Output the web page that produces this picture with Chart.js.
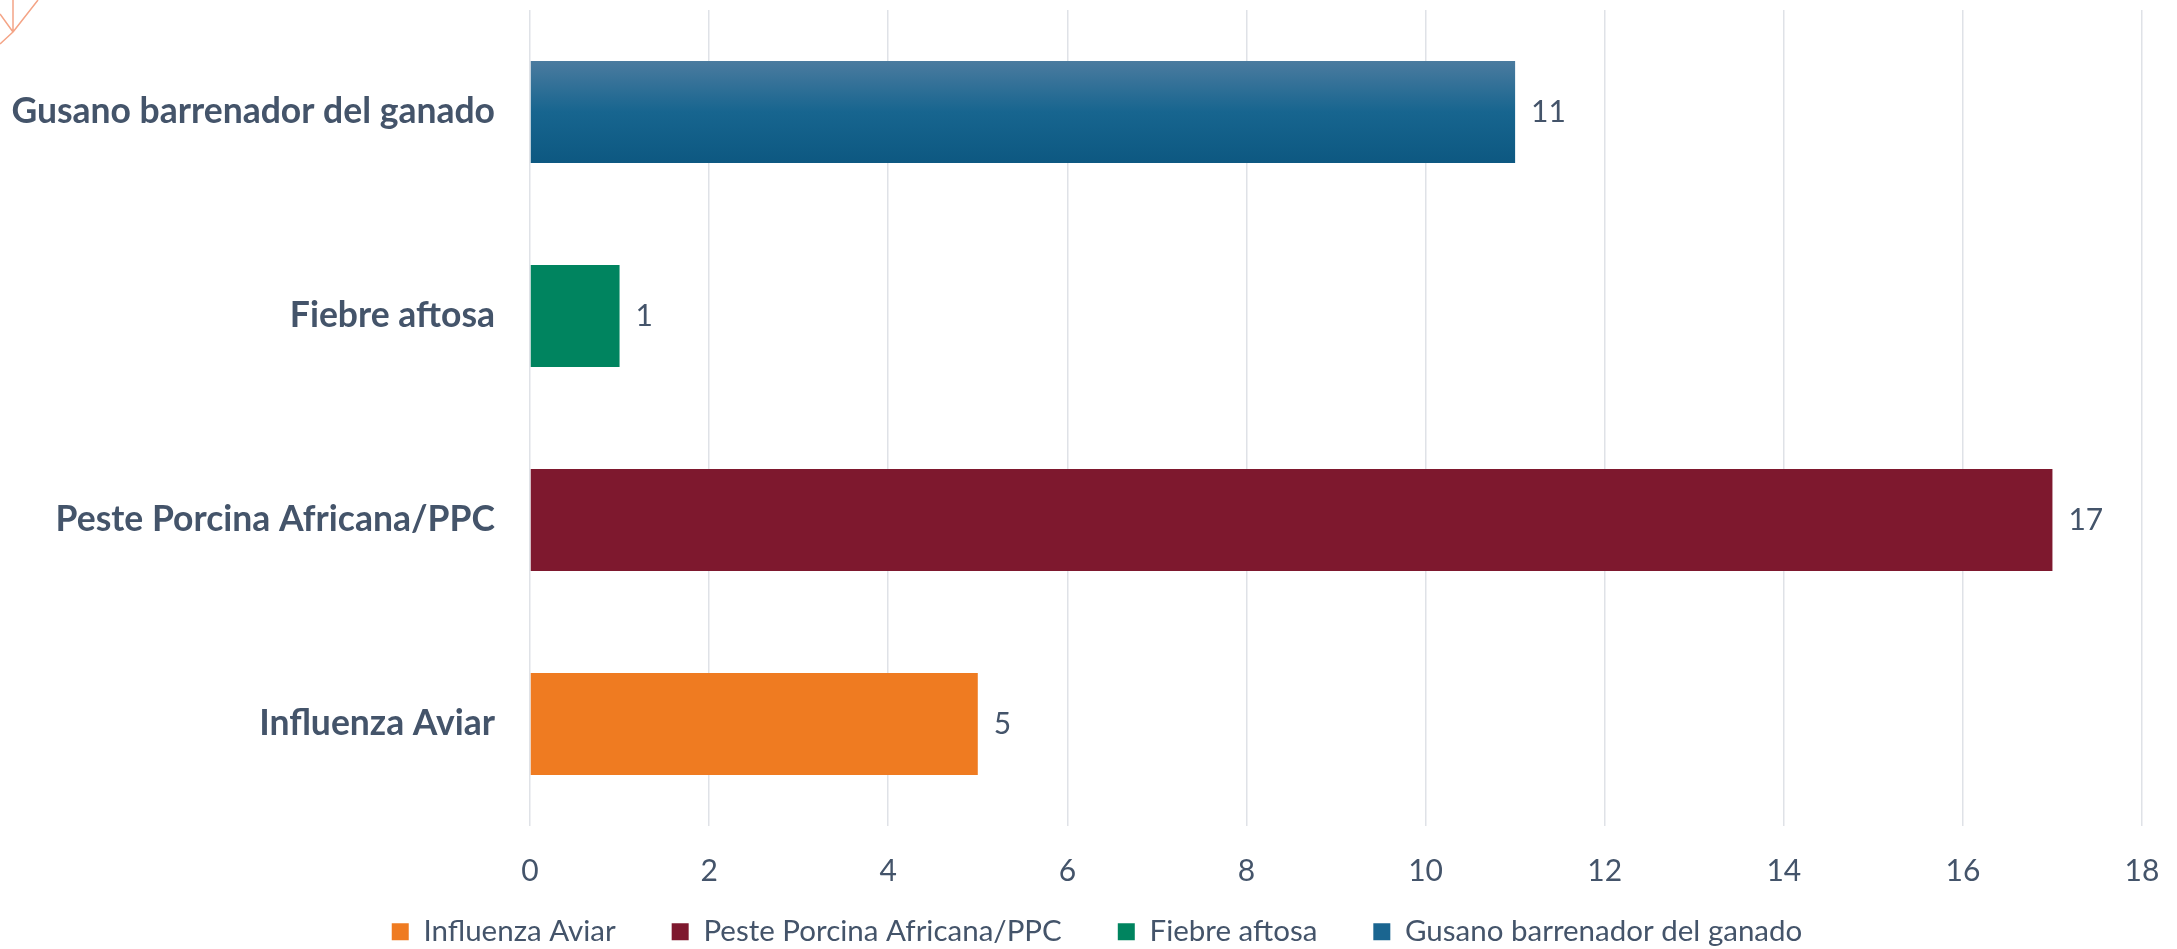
<!DOCTYPE html>
<html>
<head>
<meta charset="utf-8">
<script src="https://cdn.jsdelivr.net/npm/chart.js@4/dist/chart.umd.min.js"></script>
<style>
  html, body { margin: 0; padding: 0; background: #fff; }
  canvas { display: block; }
</style>
</head>
<body>
<canvas id="chart" width="2177" height="949"></canvas>
<script>
// datos
const categories = ['Influenza Aviar', 'Peste Porcina Africana/PPC', 'Fiebre aftosa', 'Gusano barrenador del ganado'];
const values = [5, 17, 1, 11];
const xTicks = [0, 2, 4, 6, 8, 10, 12, 14, 16, 18];
const colors = ['#EF7B21', '#7E182E', '#00845F', '#1A6590'];

const textColor = '#44546A';
const fontFamily = 'Lato, "Open Sans", sans-serif';
const legendPad = 56;

// gradiente de la barra azul (oscuro abajo, mas claro arriba)
function blueGradient(ctx) {
    const chart = ctx.chart;
    const area = chart.chartArea;
    if (!area) return colors[3];
    const y = chart.scales.y.getPixelForValue(ctx.dataIndex);
    const half = (area.bottom - area.top) / categories.length * 0.25;
    const g = chart.ctx.createLinearGradient(0, y - half, 0, y + half);
    g.addColorStop(0, '#4B7B9F');
    g.addColorStop(0.5, '#17658F');
    g.addColorStop(1, '#0D5881');
    return g;
}

// etiquetas de valor a la derecha de cada barra
const valueLabels = {
    id: 'valueLabels',
    afterDatasetsDraw(chart) {
        const ctx = chart.ctx;
        ctx.save();
        ctx.fillStyle = textColor;
        ctx.font = '30px ' + fontFamily;
        ctx.textAlign = 'left';
        ctx.textBaseline = 'middle';
        chart.data.datasets.forEach((ds, i) => {
            chart.getDatasetMeta(i).data.forEach((bar, j) => {
                if (ds.data[j] == null) return;
                ctx.fillText(ds.data[j], bar.x + 16, bar.y);
            });
        });
        ctx.restore();
    }
};

// la leyenda usa "padding" tanto para separar items como arriba/abajo;
// se recorta la altura para que no se coma el area del grafico
const legendFix = {
    id: 'legendFix',
    afterInit(chart) {
        const lg = chart.legend;
        const fit = lg.fit;
        lg.fit = function () { fit.call(this); this.height = 44; };
        const draw = lg.draw;
        lg.draw = function () {
            const t = this.top, l = this.left, r = this.right;
            this.top = t - legendPad + 12;
            this.left = l + 26;
            this.right = r + 26;
            draw.call(this);
            this.top = t; this.left = l; this.right = r;
        };
    }
};

// adorno naranja de la esquina superior izquierda
const cornerMark = {
    id: 'cornerMark',
    beforeDraw(chart) {
        const ctx = chart.ctx;
        ctx.save();
        ctx.strokeStyle = '#F4A486';
        ctx.lineWidth = 1.5;
        ctx.beginPath();
        ctx.moveTo(0, 14); ctx.lineTo(13, 32);
        ctx.moveTo(38, 0); ctx.lineTo(13, 32);
        ctx.moveTo(13, 32); ctx.lineTo(0, 44);
        ctx.moveTo(13, 0); ctx.lineTo(13, 32);
        ctx.stroke();
        ctx.restore();
    }
};

const datasets = categories.map((name, k) => ({
    label: name,
    data: categories.map((c, i) => i === k ? values[k] : null),
    backgroundColor: k === 3 ? blueGradient : colors[k],
    grouped: false,
    categoryPercentage: 0.5,
    barPercentage: 1
}));

new Chart(document.getElementById('chart'), {
    type: 'bar',
    data: { labels: categories, datasets: datasets },
    plugins: [valueLabels, legendFix, cornerMark],
    options: {
        indexAxis: 'y',
        responsive: false,
        animation: false,
        devicePixelRatio: 1,
        layout: { padding: { left: 0, right: 35, top: 10, bottom: 0 } },
        scales: {
            x: {
                min: 0,
                max: 18,
                afterBuildTicks: s => { s.ticks = xTicks.map(v => ({ value: v })); },
                afterFit: s => { s.height = 79; s.paddingLeft = 0; s.paddingRight = 0; },
                grid: { color: '#DFE2E7', lineWidth: 1.5, drawTicks: false },
                border: { display: false },
                ticks: { color: textColor, font: { family: fontFamily, size: 30 }, padding: 27 }
            },
            y: {
                reverse: true,
                afterFit: s => { s.width = 530; s.paddingTop = 0; s.paddingBottom = 0; },
                grid: { display: false },
                border: { display: false },
                ticks: { color: textColor, font: { family: fontFamily, size: 35.5, weight: 'bold' }, padding: 27 }
            }
        },
        plugins: {
            legend: {
                position: 'bottom',
                labels: {
                    color: textColor,
                    font: { family: fontFamily, size: 29.5 },
                    boxWidth: 17,
                    boxHeight: 17,
                    padding: legendPad,
                    generateLabels: chart => chart.data.datasets.map((ds, i) => ({
                        text: ds.label,
                        fillStyle: colors[i],
                        strokeStyle: colors[i],
                        lineWidth: 0,
                        fontColor: textColor,
                        datasetIndex: i,
                        hidden: false
                    }))
                }
            },
            tooltip: { enabled: false }
        }
    }
});
</script>
</body>
</html>
